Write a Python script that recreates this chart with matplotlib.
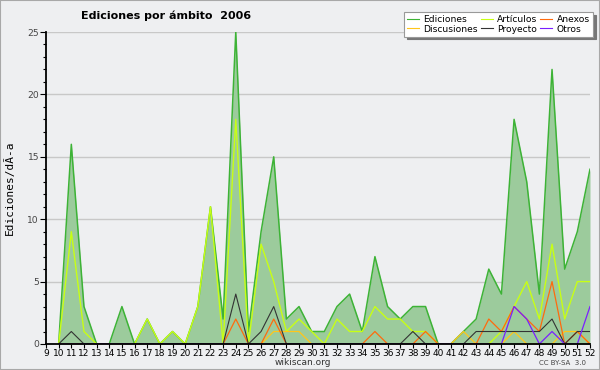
import matplotlib
matplotlib.use("Agg")
import matplotlib.pyplot as plt
from matplotlib.ticker import MultipleLocator
from matplotlib.patches import Rectangle

weeks = list(range(10, 53))
ediciones = [0, 16, 3, 0, 0, 3, 0, 2, 0, 1, 0, 3, 11, 2, 25, 1, 9, 15, 2, 3,
             1, 1, 3, 4, 1, 7, 3, 2, 3, 3, 0, 0, 1, 2, 6, 4, 18, 13, 4, 22, 6, 9, 14]
articulos = [0, 9, 1, 0, 0, 0, 0, 2, 0, 1, 0, 3, 11, 0, 18, 0, 8, 5, 1, 2,
             1, 0, 2, 1, 1, 3, 2, 2, 1, 1, 0, 0, 0, 0, 0, 1, 3, 5, 2, 8, 2, 5, 5]
anexos = [0, 0, 0, 0, 0, 0, 0, 0, 0, 0, 0, 0, 0, 0, 2, 0, 0, 2, 0, 0,
          0, 0, 0, 0, 0, 1, 0, 0, 0, 1, 0, 0, 0, 0, 2, 1, 3, 2, 1, 5, 0, 1, 0]
discusiones = [0, 0, 0, 0, 0, 0, 0, 0, 0, 0, 0, 0, 0, 0, 0, 0, 0, 1, 1, 1,
               0, 0, 0, 0, 0, 0, 0, 0, 0, 0, 0, 0, 1, 0, 0, 0, 1, 0, 0, 0, 1, 1, 0]
proyecto = [0, 1, 0, 0, 0, 0, 0, 0, 0, 0, 0, 0, 0, 0, 4, 0, 1, 3, 0, 0,
            0, 0, 0, 0, 0, 0, 0, 0, 1, 0, 0, 0, 0, 1, 1, 1, 1, 1, 1, 2, 0, 1, 1]
otros = [0, 0, 0, 0, 0, 0, 0, 0, 0, 0, 0, 0, 0, 0, 0, 0, 0, 0, 0, 0,
         0, 0, 0, 0, 0, 0, 0, 0, 0, 0, 0, 0, 0, 0, 0, 0, 3, 2, 0, 1, 0, 0, 3]
xticks = list(range(9, 53))

bg = "#eeeff1"
fig = plt.figure(figsize=(6, 3.7), dpi=100, facecolor=bg)
ax = fig.add_axes([0.0767, 0.0703, 0.9066, 0.8432])
ax.set_facecolor(bg)
fig.patches.append(Rectangle((0, 0), 1, 1, transform=fig.transFigure, fill=False,
                             edgecolor="#a8a8a8", linewidth=1.5))

ax.fill_between(weeks, ediciones, 0, color="#9ccb9c", linewidth=0, zorder=1)
l_ed, = ax.plot(weeks, ediciones, color="#3db336", lw=1.1, zorder=2, label="Ediciones")
l_ar, = ax.plot(weeks, articulos, color="#c8ff14", lw=1.0, zorder=2.1, label="Artículos")
l_di, = ax.plot(weeks, discusiones, color="#ffc61a", lw=0.9, zorder=2.1, label="Discusiones")
l_an, = ax.plot(weeks, anexos, color="#ff6a0d", lw=0.9, zorder=2.2, label="Anexos")
l_pr, = ax.plot(weeks, proyecto, color="#333333", lw=0.8, zorder=2.2, label="Proyecto")
l_ot, = ax.plot(weeks, otros, color="#7a1fff", lw=0.9, zorder=2.3, label="Otros")

ax.set_xlim(9, 52)
ax.set_ylim(0, 25)
ax.set_xticks(xticks)
ax.set_xticklabels([str(v) for v in xticks])
ax.yaxis.set_major_locator(MultipleLocator(5))
ax.yaxis.set_minor_locator(MultipleLocator(1))
ax.tick_params(axis="x", length=3, width=0.8, pad=0.5, labelsize=6.5, colors="black")
ax.tick_params(axis="y", which="major", length=4, width=0.8, pad=1, labelsize=6.6,
               labelcolor="#444444")
ax.tick_params(axis="y", which="minor", length=2.5, width=0.8)
for s in ("top", "right"):
    ax.spines[s].set_visible(False)
for s in ("left", "bottom"):
    ax.spines[s].set_linewidth(1.3)
    ax.spines[s].set_zorder(3)
ax.yaxis.grid(True, which="major", color="#c8c8c8", lw=1)
ax.set_axisbelow(True)

ax.set_ylabel("Ediciones/dÃ-a", family="DejaVu Sans Mono", fontsize=8, labelpad=9)
fig.text(0.277, 0.958, "Ediciones por ámbito  2006", ha="center", va="center",
         fontsize=8, fontweight="bold")
fig.text(0.505, 0.021, "wikiscan.org", ha="center", va="center", fontsize=6.5, color="#333333")
fig.text(0.937, 0.020, "CC BY-SA  3.0", ha="center", va="center", fontsize=5, color="#444444")

leg = fig.legend([l_ed, l_di, l_ar, l_pr, l_an, l_ot],
                 ["Ediciones", "Discusiones", "Artículos", "Proyecto", "Anexos", "Otros"],
                 ncol=3, loc="upper right", bbox_to_anchor=(0.988, 0.968),
                 fontsize=6.6, frameon=True, fancybox=False,
                 shadow={"color": "#777777", "alpha": 1},
                 handlelength=1.3, handletextpad=0.45, columnspacing=0.35,
                 labelspacing=0.05, borderpad=0.35, borderaxespad=0)
leg.get_frame().set_edgecolor("#999999")
leg.get_frame().set_linewidth(0.8)
for h in leg.get_lines():
    h.set_linewidth(0.8)

fig.savefig("out.png", dpi=100, facecolor=bg)
